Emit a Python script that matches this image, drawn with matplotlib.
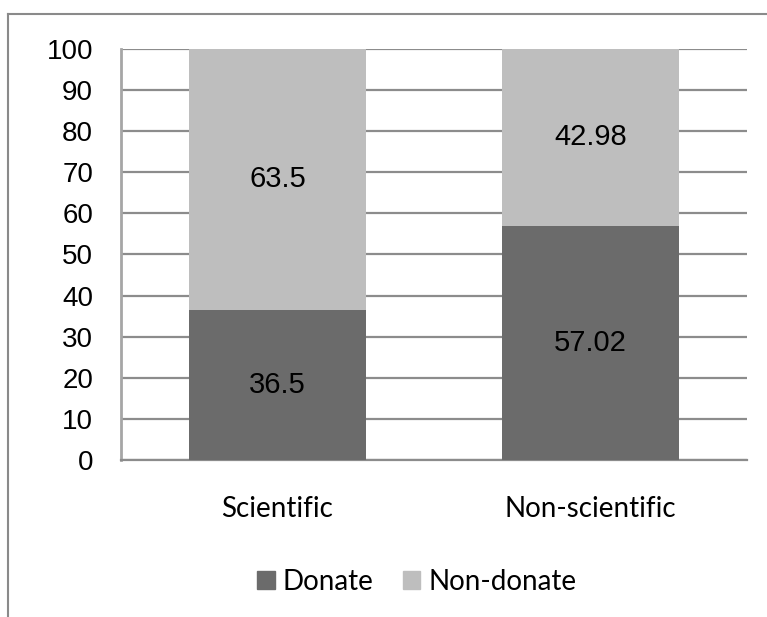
import matplotlib
matplotlib.use("Agg")
import matplotlib.pyplot as plt
from matplotlib.lines import Line2D
from matplotlib.patches import Patch

categories = ["Scientific", "Non-scientific"]
donate = [36.5, 57.02]
non_donate = [63.5, 42.98]
donate_labels = ["36.5", "57.02"]
non_donate_labels = ["63.5", "42.98"]
yticks = [0, 10, 20, 30, 40, 50, 60, 70, 80, 90, 100]

c_dark = "#6b6b6b"
c_light = "#bebebe"

fig = plt.figure(figsize=(7.67, 6.17), dpi=100)
ax = fig.add_axes([121/767, 1-460/617, 626/767, 411/617])

x = list(range(len(categories)))
w = 0.565
ax.bar(x, donate, width=w, color=c_dark, zorder=3)
ax.bar(x, non_donate, bottom=donate, width=w, color=c_light, zorder=3)

for i in x:
    ax.text(i, donate[i]/2, donate_labels[i], ha="center", va="center",
            fontsize=21, family="Liberation Sans", color="black", zorder=4)
    ax.text(i, donate[i] + non_donate[i]/2, non_donate_labels[i], ha="center", va="center",
            fontsize=21, family="Liberation Sans", color="black", zorder=4)

ax.set_xlim(-0.5, 1.5)
ax.set_ylim(0, 100)
ax.set_yticks(yticks)
ax.set_yticklabels([str(v) for v in yticks], family="Liberation Sans", fontsize=20)
ax.set_xticks(x)
ax.set_xticklabels(categories, family="Lato", fontsize=20)
ax.tick_params(axis="y", length=0, pad=20)
ax.tick_params(axis="x", length=0, pad=26)
ax.yaxis.grid(True, color="#8c8c8c", linewidth=1.6, zorder=1)
ax.set_axisbelow(True)
for s in ["top", "right"]:
    ax.spines[s].set_visible(False)
ax.spines["left"].set_color("#a6a6a6")
ax.spines["left"].set_linewidth(2)
ax.spines["bottom"].set_color("#8c8c8c")
ax.spines["bottom"].set_linewidth(1.6)

handles = [Patch(color=c_dark, label="Donate"), Patch(color=c_light, label="Non-donate")]
leg = fig.legend(handles=handles, loc="center", bbox_to_anchor=(417/767, 1-582/617),
                 ncol=2, frameon=False, prop={"family": "Lato", "size": 20},
                 handlelength=0.62, handleheight=0.62, handletextpad=0.3,
                 columnspacing=1.05, borderpad=0, borderaxespad=0)

fig.add_artist(Line2D([8/767, 8/767], [0, 1-14/617], transform=fig.transFigure,
                      color="#8a8a8a", linewidth=1.5))
fig.add_artist(Line2D([8/767, 1.0], [1-14/617, 1-14/617], transform=fig.transFigure,
                      color="#8a8a8a", linewidth=1.5))

fig.savefig("out.png", dpi=100, facecolor="white")
